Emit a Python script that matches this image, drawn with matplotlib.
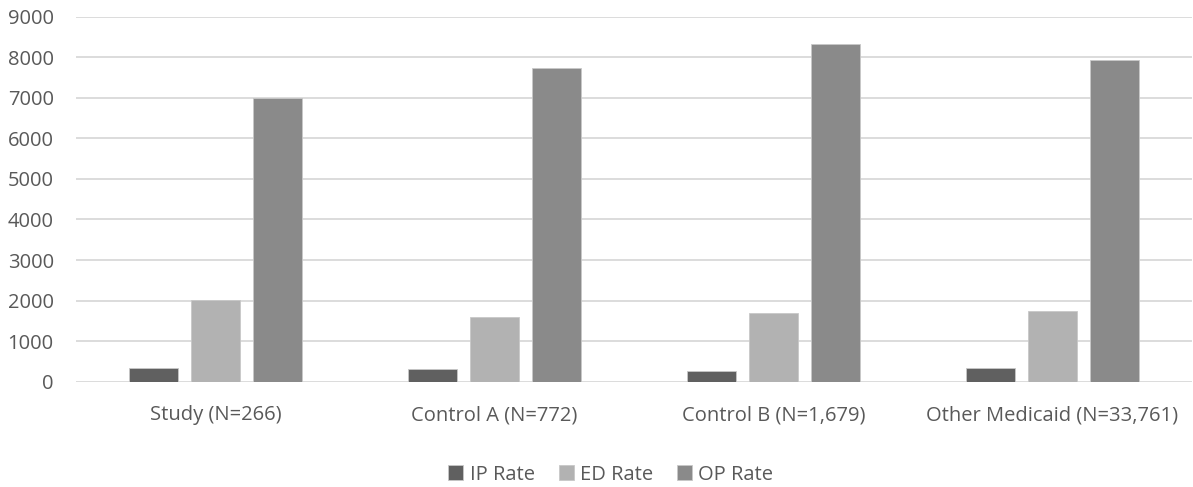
import numpy as np
import matplotlib.pyplot as plt

plt.rcParams["font.family"] = ["Open Sans", "DejaVu Sans"]

groups = ["Study (N=266)", "Control A (N=772)", "Control B (N=1,679)", "Other Medicaid (N=33,761)"]
series_names = ["IP Rate", "ED Rate", "OP Rate"]
ip_rate = [330, 305, 271, 345]
ed_rate = [2020, 1603, 1701, 1743]
op_rate = [6990, 7727, 8333, 7924]

colors = ["#606060", "#b2b2b2", "#8a8a8a"]
text_color = "#595959"

fig = plt.figure(figsize=(11.93, 4.87), dpi=100)
ax = fig.add_axes([0.0637, 0.2162, 0.9353, 0.7495])

x = np.arange(len(groups))
width = 0.1745
step = 0.222
for i, (name, vals) in enumerate(zip(series_names, [ip_rate, ed_rate, op_rate])):
    ax.bar(x + (i - 1) * step, vals, width, color=colors[i], label=name,
           edgecolor="#c8c8c8", linewidth=0.6, zorder=3)

ax.set_xlim(-0.5, len(groups) - 0.5)
ax.set_ylim(0, 9000)
ax.set_yticks(np.arange(0, 9001, 1000))
ax.set_xticks(x)
ax.set_xticklabels(groups)
ax.yaxis.grid(True, color="#d9d9d9", linewidth=1.3, zorder=0)
ax.tick_params(axis="both", length=0, labelsize=14.5, labelcolor=text_color)
ax.tick_params(axis="x", pad=17)
ax.tick_params(axis="y", pad=16)
for spine in ax.spines.values():
    spine.set_visible(False)

fig.legend(loc="center", bbox_to_anchor=(0.512, 0.025), ncol=3, frameon=False,
           fontsize=14.5, labelcolor=text_color, handlelength=0.75, handleheight=0.75,
           handletextpad=0.3, columnspacing=1.2)

fig.savefig("out.png", dpi=100)
